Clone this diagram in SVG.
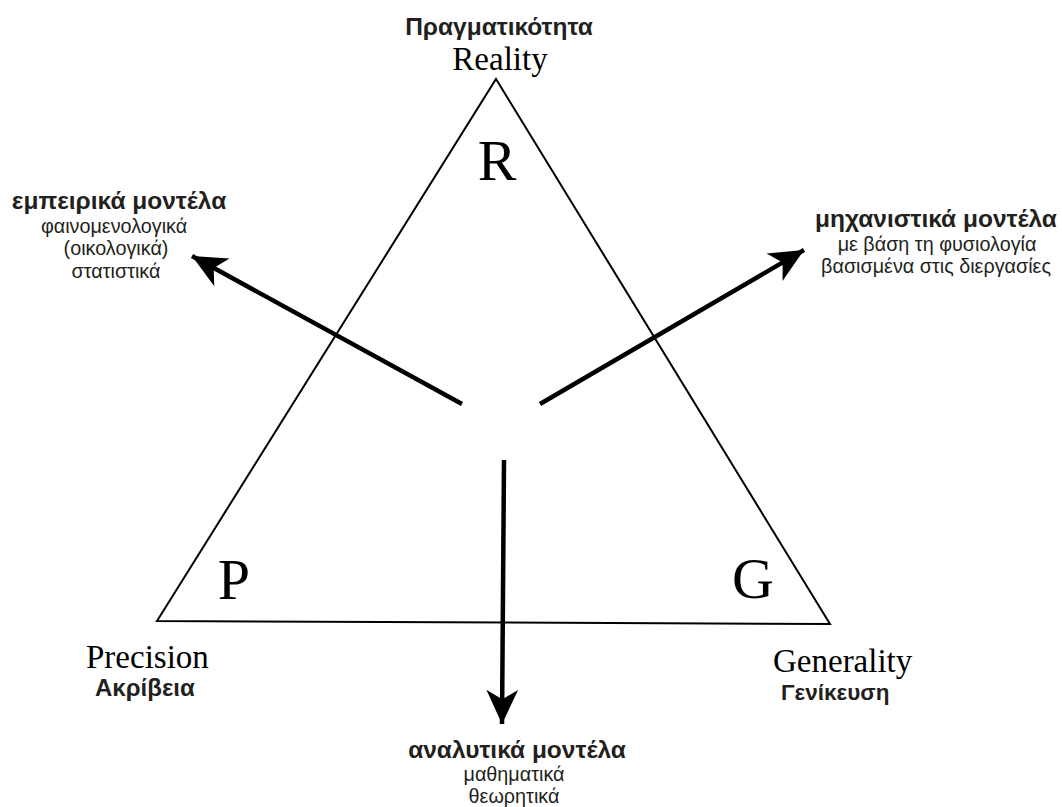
<svg xmlns="http://www.w3.org/2000/svg" width="1062" height="807" viewBox="0 0 1062 807">
<style>
.sans{font-family:"Liberation Sans",Arial,sans-serif;fill:#231f20}
.b{font-weight:bold;font-size:24.5px}
.s{font-size:19.8px}
.serif{font-family:"Liberation Serif","Times New Roman",serif;fill:#000}
.big{font-size:58px}
.lbl{font-size:33px}
.arrow{stroke:#000;stroke-width:4.5;fill:none}
</style>
<defs>
<marker id="ah" markerUnits="userSpaceOnUse" markerWidth="40" markerHeight="40" viewBox="-32 -16 34 32" refX="0" refY="0" orient="auto">
<path d="M0,0 L-29,-13.5 L-21,0 L-29,13.5 Z" fill="#000"/>
</marker>
</defs>
<rect width="1062" height="807" fill="#fff"/>
<g id="triangle">
<path d="M496,79 L830,624 L157,621 Z" fill="none" stroke="#000" stroke-width="2" stroke-linejoin="miter"/>
<text class="serif big" x="497" y="180" text-anchor="middle">R</text>
<text class="serif big" x="234" y="599" text-anchor="middle">P</text>
<text class="serif big" x="753" y="598" text-anchor="middle">G</text>
</g>
<g id="reality">
<text class="sans b" x="499" y="35" text-anchor="middle">Πραγματικότητα</text>
<text class="serif lbl" x="500" y="70" text-anchor="middle">Reality</text>
</g>
<g id="precision">
<text class="serif lbl" x="86" y="668">Precision</text>
<text class="sans b" x="95" y="696" style="font-size:24px">Ακρίβεια</text>
</g>
<g id="generality">
<text class="serif lbl" x="773" y="672">Generality</text>
<text class="sans b" x="781" y="700" style="font-size:22.5px">Γενίκευση</text>
</g>
<g id="empirical">
<text class="sans b" x="119" y="209" text-anchor="middle">εμπειρικά μοντέλα</text>
<text class="sans s" x="114" y="233" text-anchor="middle">φαινομενολογικά</text>
<text class="sans s" x="116" y="255" text-anchor="middle">(οικολογικά)</text>
<text class="sans s" x="116" y="278" text-anchor="middle">στατιστικά</text>
</g>
<g id="mechanistic">
<text class="sans b" x="936" y="227" text-anchor="middle">μηχανιστικά μοντέλα</text>
<text class="sans s" x="937" y="251" text-anchor="middle">με βάση τη φυσιολογία</text>
<text class="sans s" x="936" y="273" text-anchor="middle">βασισμένα στις διεργασίες</text>
</g>
<g id="analytical">
<text class="sans b" x="517" y="758" text-anchor="middle">αναλυτικά μοντέλα</text>
<text class="sans s" x="514" y="781" text-anchor="middle">μαθηματικά</text>
<text class="sans s" x="514" y="803" text-anchor="middle">θεωρητικά</text>
</g>
<g id="connectors">
<line class="arrow" x1="462" y1="404" x2="192" y2="256" marker-end="url(#ah)"/>
<line class="arrow" x1="540" y1="404" x2="804" y2="250" marker-end="url(#ah)"/>
<line class="arrow" x1="504" y1="460" x2="502" y2="724" marker-end="url(#ah)"/>
</g>
</svg>
